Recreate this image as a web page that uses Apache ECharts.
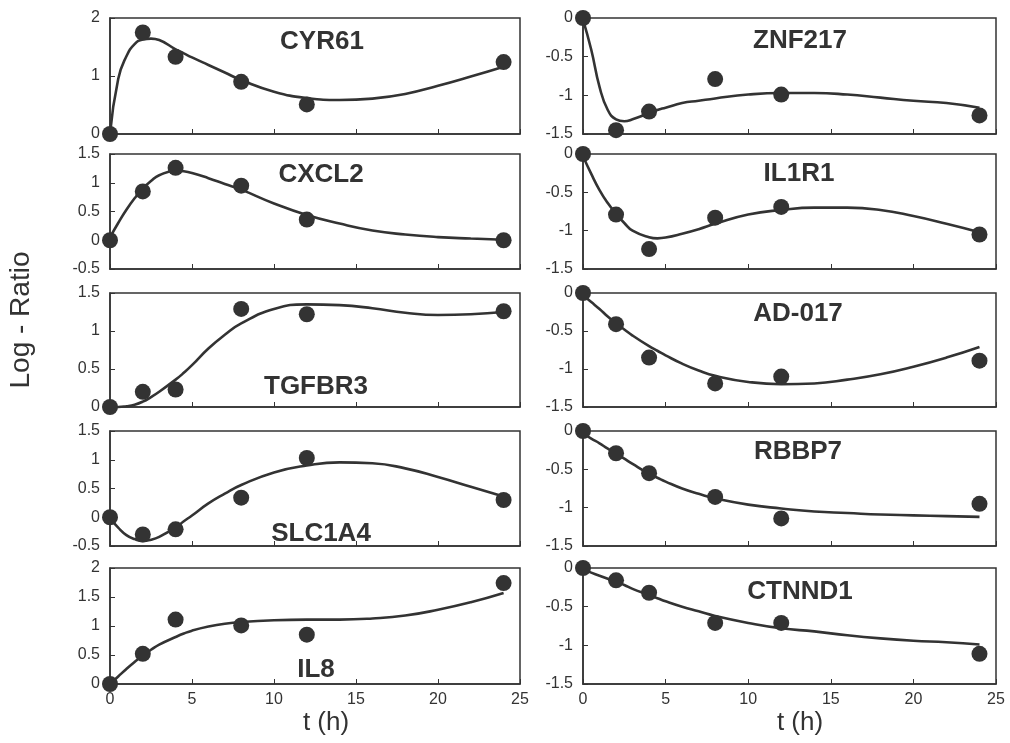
<!DOCTYPE html>
<html>
<head>
<meta charset="utf-8">
<script src="https://cdn.jsdelivr.net/npm/echarts@6/dist/echarts.min.js"></script>
<style>
  html, body { margin: 0; padding: 0; background: #fff; }
  #main { width: 1010px; height: 743px; }
</style>
</head>
<body>
<div id="main"></div>
<script>
// measured time points (h)
var times = [0, 2, 4, 8, 12, 24];
// time grid the fitted curves were read at
var fitTimes = [0, 0.5, 1, 1.5, 2, 2.5, 3, 4, 4.5, 5, 6, 7, 8, 10, 12, 14, 16, 18, 20, 22, 24];

var genes = ['CYR61', 'CXCL2', 'TGFBR3', 'SLC1A4', 'IL8', 'ZNF217', 'IL1R1', 'AD-017', 'RBBP7', 'CTNND1'];

// measured log-ratios
var cyr61 = [0, 1.75, 1.33, 0.90, 0.51, 1.24];
var cxcl2 = [0, 0.85, 1.26, 0.95, 0.36, 0];
var tgfbr3 = [0, 0.20, 0.23, 1.29, 1.22, 1.26];
var slc1a4 = [0, -0.30, -0.21, 0.34, 1.03, 0.30];
var il8 = [0, 0.52, 1.11, 1.01, 0.85, 1.74];
var znf217 = [0, -1.45, -1.21, -0.79, -0.99, -1.26];
var il1r1 = [0, -0.79, -1.24, -0.83, -0.69, -1.05];
var ad017 = [0, -0.41, -0.85, -1.19, -1.10, -0.89];
var rbbp7 = [0, -0.29, -0.55, -0.86, -1.14, -0.95];
var ctnnd1 = [0, -0.16, -0.32, -0.71, -0.71, -1.11];

// fitted curves at fitTimes
var cyr61Fit = [0, 0.95, 1.34, 1.55, 1.63, 1.645, 1.62, 1.46, 1.39, 1.32, 1.19, 1.06, 0.93, 0.73, 0.62, 0.585, 0.61, 0.69, 0.83, 0.99, 1.16];
var cxcl2Fit = [0.05, 0.30, 0.53, 0.73, 0.90, 1.03, 1.13, 1.21, 1.20, 1.17, 1.08, 0.98, 0.88, 0.64, 0.44, 0.29, 0.17, 0.10, 0.055, 0.03, 0.01];
var tgfbr3Fit = [0, 0, 0.01, 0.03, 0.07, 0.13, 0.20, 0.36, 0.45, 0.55, 0.77, 0.95, 1.10, 1.29, 1.35, 1.34, 1.30, 1.24, 1.21, 1.22, 1.25];
var slc1a4Fit = [-0.02, -0.18, -0.31, -0.38, -0.41, -0.39, -0.34, -0.18, -0.07, 0.03, 0.24, 0.41, 0.56, 0.78, 0.90, 0.955, 0.94, 0.85, 0.70, 0.53, 0.36];
var il8Fit = [0, 0.13, 0.26, 0.38, 0.49, 0.59, 0.68, 0.81, 0.87, 0.92, 0.99, 1.04, 1.07, 1.10, 1.11, 1.11, 1.13, 1.18, 1.28, 1.41, 1.57];
var znf217Fit = [-0.02, -0.41, -0.89, -1.19, -1.31, -1.335, -1.31, -1.23, -1.19, -1.16, -1.10, -1.07, -1.04, -0.99, -0.97, -0.97, -0.99, -1.03, -1.07, -1.10, -1.16];
var il1r1Fit = [-0.03, -0.26, -0.47, -0.64, -0.78, -0.90, -1.00, -1.085, -1.10, -1.09, -1.04, -0.98, -0.91, -0.79, -0.73, -0.70, -0.70, -0.73, -0.81, -0.91, -1.02];
var ad017Fit = [-0.03, -0.12, -0.21, -0.31, -0.40, -0.48, -0.56, -0.70, -0.76, -0.82, -0.93, -1.02, -1.09, -1.17, -1.20, -1.19, -1.14, -1.07, -0.97, -0.85, -0.71];
var rbbp7Fit = [-0.03, -0.10, -0.16, -0.23, -0.29, -0.36, -0.43, -0.56, -0.61, -0.66, -0.75, -0.82, -0.88, -0.96, -1.01, -1.05, -1.07, -1.09, -1.10, -1.11, -1.12];
var ctnnd1Fit = [-0.02, -0.06, -0.10, -0.14, -0.18, -0.22, -0.27, -0.35, -0.39, -0.43, -0.50, -0.56, -0.62, -0.71, -0.78, -0.82, -0.87, -0.91, -0.94, -0.96, -0.99];

var points = [cyr61, cxcl2, tgfbr3, slc1a4, il8, znf217, il1r1, ad017, rbbp7, ctnnd1];
var fits = [cyr61Fit, cxcl2Fit, tgfbr3Fit, slc1a4Fit, il8Fit, znf217Fit, il1r1Fit, ad017Fit, rbbp7Fit, ctnnd1Fit];

// y ranges per panel [min, max, interval]
var yRanges = [
  [0, 2, 1], [-0.5, 1.5, 0.5], [0, 1.5, 0.5], [-0.5, 1.5, 0.5], [0, 2, 0.5],
  [-1.5, 0, 0.5], [-1.5, 0, 0.5], [-1.5, 0, 0.5], [-1.5, 0, 0.5], [-1.5, 0, 0.5]
];

// layout
var colLeft = [110, 583];
var colWidth = [410, 413];
var rowTop = [18, 154, 293, 431, 568];
var rowHeight = [116, 115, 114, 115, 116];
var labelPos = [
  [322, 42], [321, 175], [316, 387], [321, 534], [316, 670],
  [800, 41], [799, 174], [798, 314], [798, 452], [800, 592]
];

var ink = '#333';
var fontFam = '"Liberation Sans", Arial, sans-serif';

var grids = [], xAxes = [], yAxes = [], series = [], graphics = [];

for (var i = 0; i < genes.length; i++) {
  var col = i < 5 ? 0 : 1;
  var row = i % 5;
  grids.push({
    left: colLeft[col], top: rowTop[row], width: colWidth[col], height: rowHeight[row],
    show: true, borderColor: ink, borderWidth: 1.5, backgroundColor: 'transparent'
  });
  xAxes.push({
    type: 'value', gridIndex: i, min: 0, max: 25, interval: 5,
    axisLine: { show: true, onZero: false, lineStyle: { color: ink, width: 1.5 } },
    axisTick: { show: true, inside: true, length: 5, lineStyle: { color: ink, width: 1 } },
    axisLabel: { show: row === 4, color: ink, fontSize: 16, fontFamily: fontFam, margin: 8 },
    splitLine: { show: false }
  });
  yAxes.push({
    type: 'value', gridIndex: i, min: yRanges[i][0], max: yRanges[i][1], interval: yRanges[i][2],
    axisLine: { show: true, onZero: false, lineStyle: { color: ink, width: 1.5 } },
    axisTick: { show: true, inside: true, length: 5, lineStyle: { color: ink, width: 1 } },
    axisLabel: { color: ink, fontSize: 16, fontFamily: fontFam, margin: 10 },
    splitLine: { show: false }
  });
  series.push({
    type: 'line', xAxisIndex: i, yAxisIndex: i, smooth: 0.5, clip: false,
    showSymbol: false, symbol: 'none',
    lineStyle: { color: ink, width: 2.6 },
    data: fitTimes.map(function (t, k) { return [t, fits[i][k]]; }),
    z: 2, silent: true
  });
  series.push({
    type: 'scatter', xAxisIndex: i, yAxisIndex: i, clip: false,
    symbol: 'circle', symbolSize: 16,
    itemStyle: { color: ink, opacity: 1 },
    data: times.map(function (t, k) { return [t, points[i][k]]; }),
    z: 3, silent: true
  });
  graphics.push({
    type: 'text', x: labelPos[i][0], y: labelPos[i][1], z: 10,
    style: {
      text: genes[i], fill: ink, align: 'center', verticalAlign: 'middle',
      font: 'bold 26px ' + fontFam
    }
  });
}

graphics.push({
  type: 'text', x: 21, y: 320, rotation: Math.PI / 2,
  style: { text: 'Log - Ratio', fill: ink, align: 'center', verticalAlign: 'middle', font: '28px ' + fontFam }
});
graphics.push({
  type: 'text', x: 326, y: 723,
  style: { text: 't (h)', fill: ink, align: 'center', verticalAlign: 'middle', font: '26px ' + fontFam }
});
graphics.push({
  type: 'text', x: 800, y: 723,
  style: { text: 't (h)', fill: ink, align: 'center', verticalAlign: 'middle', font: '26px ' + fontFam }
});

var chart = echarts.init(document.getElementById('main'), null, { renderer: 'canvas' });
chart.setOption({
  animation: false,
  backgroundColor: '#fff',
  grid: grids,
  xAxis: xAxes,
  yAxis: yAxes,
  series: series,
  graphic: graphics
});
window.addEventListener('resize', function () { chart.resize(); });
</script>
</body>
</html>
